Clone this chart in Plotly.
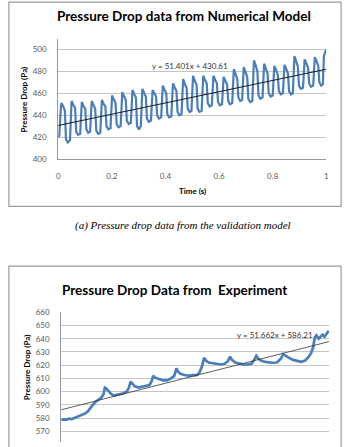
import plotly.graph_objects as go

# ---------------- data ----------------
top_time = [0.000, 0.004, 0.010, 0.012, 0.019, 0.025, 0.029, 0.036,
            0.044, 0.048, 0.050, 0.057, 0.063, 0.067, 0.074,
            0.082, 0.086, 0.088, 0.095, 0.101, 0.105, 0.112,
            0.119, 0.123, 0.125, 0.132, 0.138, 0.142, 0.149,
            0.157, 0.161, 0.163, 0.170, 0.176, 0.180, 0.187,
            0.195, 0.199, 0.201, 0.208, 0.214, 0.218, 0.225,
            0.233, 0.237, 0.239, 0.246, 0.252, 0.256, 0.263,
            0.271, 0.275, 0.277, 0.284, 0.290, 0.294, 0.301,
            0.308, 0.312, 0.314, 0.321, 0.327, 0.331, 0.338,
            0.346, 0.350, 0.352, 0.359, 0.365, 0.369, 0.376,
            0.384, 0.388, 0.390, 0.397, 0.403, 0.407, 0.414,
            0.422, 0.426, 0.428, 0.435, 0.441, 0.445, 0.452,
            0.460, 0.464, 0.466, 0.473, 0.479, 0.483, 0.490,
            0.497, 0.501, 0.503, 0.510, 0.516, 0.520, 0.527,
            0.535, 0.539, 0.541, 0.548, 0.554, 0.558, 0.565,
            0.573, 0.577, 0.579, 0.586, 0.592, 0.596, 0.603,
            0.611, 0.615, 0.617, 0.624, 0.630, 0.634, 0.641,
            0.649, 0.653, 0.655, 0.662, 0.668, 0.672, 0.679,
            0.686, 0.690, 0.692, 0.699, 0.705, 0.709, 0.716,
            0.724, 0.728, 0.730, 0.737, 0.743, 0.747, 0.754,
            0.762, 0.766, 0.768, 0.775, 0.781, 0.785, 0.792,
            0.800, 0.804, 0.806, 0.813, 0.819, 0.823, 0.830,
            0.838, 0.842, 0.844, 0.851, 0.857, 0.861, 0.868,
            0.875, 0.879, 0.881, 0.888, 0.894, 0.898, 0.905,
            0.913, 0.917, 0.919, 0.926, 0.932, 0.936, 0.943,
            0.951, 0.955, 0.957, 0.964, 0.970, 0.974, 0.981,
            0.987, 0.991, 0.995, 1.000]
top_dp = [420, 421, 447, 451, 448, 444, 418, 415,
          417, 450, 453, 449, 447, 425, 422,
          423, 449, 452, 448, 446, 427, 424,
          425, 450, 453, 449, 446, 426, 423,
          424, 451, 454, 450, 448, 430, 427,
          428, 455, 458, 454, 451, 432, 429,
          430, 458, 461, 457, 454, 435, 432,
          433, 460, 463, 459, 456, 430, 427,
          430, 461, 464, 460, 457, 437, 434,
          435, 460, 463, 460, 457, 440, 437,
          438, 464, 467, 463, 460, 441, 438,
          439, 466, 469, 465, 462, 443, 440,
          441, 470, 473, 468, 465, 446, 443,
          444, 473, 476, 471, 468, 446, 443,
          444, 473, 476, 472, 469, 451, 448,
          449, 473, 476, 472, 469, 452, 449,
          450, 472, 475, 471, 468, 453, 450,
          451, 479, 482, 477, 473, 456, 453,
          454, 481, 484, 479, 475, 455, 452,
          453, 487, 490, 485, 480, 458, 455,
          456, 484, 487, 482, 478, 460, 457,
          458, 482, 485, 481, 477, 462, 459,
          460, 483, 486, 482, 478, 462, 459,
          460, 491, 494, 489, 484, 467, 464,
          465, 488, 491, 487, 483, 469, 466,
          467, 490, 493, 489, 485, 470, 467,
          468, 494, 497, 500]
top_trend = (51.401, 430.61)

bot_time = [0.000, 0.010, 0.020, 0.030, 0.040, 0.050, 0.060, 0.070, 0.080, 0.090,
            0.100, 0.110, 0.120, 0.130, 0.140, 0.150, 0.158, 0.163, 0.168, 0.175,
            0.185, 0.195, 0.205, 0.215, 0.230, 0.245, 0.253, 0.259, 0.265, 0.275,
            0.288, 0.300, 0.315, 0.330, 0.338, 0.343, 0.350, 0.365, 0.380, 0.395,
            0.410, 0.422, 0.430, 0.436, 0.445, 0.460, 0.475, 0.490, 0.505, 0.515,
            0.525, 0.533, 0.540, 0.550, 0.565, 0.580, 0.595, 0.610, 0.622, 0.630,
            0.637, 0.650, 0.665, 0.680, 0.695, 0.710, 0.720, 0.728, 0.735, 0.745,
            0.760, 0.775, 0.790, 0.805, 0.820, 0.828, 0.837, 0.850, 0.865, 0.880,
            0.895, 0.910, 0.922, 0.932, 0.940, 0.946, 0.952, 0.960, 0.968, 0.975,
            0.982, 0.990, 0.998]
bot_dp = [578.5, 579.0, 578.8, 579.5, 579.2, 580.0, 580.5, 581.5, 582.5, 583.5,
          585.0, 588.0, 590.5, 592.5, 594.0, 595.5, 598.0, 603.0, 602.5, 600.5,
          598.5, 597.0, 597.5, 598.0, 598.5, 600.0, 603.0, 607.5, 606.0, 604.0,
          603.0, 603.5, 604.0, 605.0, 608.0, 612.0, 610.5, 609.5, 608.5, 608.5,
          610.0, 612.0, 617.5, 615.0, 613.5, 612.5, 612.0, 612.5, 612.5, 614.0,
          619.0, 625.5, 623.5, 622.0, 621.5, 621.0, 620.5, 621.0, 623.0, 626.5,
          624.0, 622.0, 621.0, 620.5, 620.5, 621.0, 624.0, 627.0, 625.0, 623.5,
          622.5, 622.0, 621.8, 622.0, 625.0, 628.3, 627.0, 625.5, 624.0, 623.0,
          622.5, 623.5, 626.0, 629.0, 633.5, 641.0, 642.5, 640.0, 641.5, 643.0,
          641.5, 643.5, 646.0]
bot_trend = (51.662, 586.21)

y_ticks_top = [400, 420, 440, 460, 480, 500]
y_ticks_bot = [570, 580, 590, 600, 610, 620, 630, 640, 650, 660]
x_ticks = [0, 0.2, 0.4, 0.6, 0.8, 1]

# ---------------- layout helpers ----------------
W, H = 352, 447
def px(x):
    return x / W
def py(y):
    return (H - y) / H

BLUE = "#4A7EBB"
GRID = "#C4C4C4"
AXIS = "#9A9A9A"
TICKC = "#595959"
FONT = "Lato"

fig = go.Figure()

fig.add_trace(go.Scatter(x=top_time, y=top_dp, mode="lines",
                         line=dict(color=BLUE, width=2.2), xaxis="x", yaxis="y",
                         showlegend=False))
fig.add_trace(go.Scatter(x=[0, 1], y=[top_trend[1], top_trend[0] + top_trend[1]],
                         mode="lines", line=dict(color="#1a1a1a", width=1),
                         xaxis="x", yaxis="y", showlegend=False))
fig.add_trace(go.Scatter(x=bot_time, y=bot_dp, mode="lines",
                         line=dict(color=BLUE, width=2.7), xaxis="x2", yaxis="y2",
                         showlegend=False))
fig.add_trace(go.Scatter(x=[0, 1], y=[bot_trend[1], bot_trend[0] + bot_trend[1]],
                         mode="lines", line=dict(color="#333333", width=0.8),
                         xaxis="x2", yaxis="y2", showlegend=False))

tickfont = dict(family=FONT, size=8, color=TICKC)

fig.update_layout(
    width=W, height=H, margin=dict(l=0, r=0, t=0, b=0),
    paper_bgcolor="white", plot_bgcolor="white",
    xaxis=dict(domain=[px(57), px(329)], range=[0, 1], tickvals=x_ticks,
               ticktext=[f"{v:g}" for v in x_ticks], showgrid=False, zeroline=False,
               showline=True, linecolor=AXIS, linewidth=1, tickfont=tickfont,
               ticks="", ticklabelstandoff=9, anchor="y"),
    yaxis=dict(domain=[py(157.5), py(34.3)], range=[400, 510], tickvals=y_ticks_top,
               showgrid=True, gridcolor=GRID, gridwidth=1, zeroline=False,
               showline=True, linecolor=AXIS, linewidth=1, tickfont=tickfont,
               ticks="", ticklabelstandoff=9, anchor="x"),
    xaxis2=dict(domain=[px(60), px(332)], range=[0, 1], showticklabels=False,
                showgrid=False, zeroline=False, showline=False, anchor="y2"),
    yaxis2=dict(domain=[0, py(314.3)], range=[561.86, 660], tickvals=y_ticks_bot,
                showgrid=True, gridcolor=GRID, gridwidth=1, zeroline=False,
                showline=True, linecolor=AXIS, linewidth=1, tickfont=tickfont,
                ticks="", ticklabelstandoff=9, anchor="x2"),
)

shapes = [
    dict(type="rect", xref="paper", yref="paper", x0=px(7), x1=px(344),
         y0=py(206), y1=py(-3), line=dict(color="#9C9C9C", width=1.2)),
    dict(type="rect", xref="paper", yref="paper", x0=px(7), x1=px(344),
         y0=py(460), y1=py(267), line=dict(color="#9C9C9C", width=1.2)),
]
fig.update_layout(shapes=shapes)

def ann(text, x, y, size, bold=False, italic=False, family=FONT, color="black",
        angle=0):
    t = text
    if bold:
        t = "<b>" + t + "</b>"
    if italic:
        t = "<i>" + t + "</i>"
    fig.add_annotation(text=t, x=px(x), y=py(y), xref="paper", yref="paper",
                       showarrow=False, xanchor="center", yanchor="middle",
                       textangle=angle,
                       font=dict(family=family, size=size, color=color))

ann("Pressure Drop data from Numerical Model", 185, 11, 13.5, bold=True)
ann("Time (s)", 193, 190.5, 8, bold=True)
ann("Pressure Drop (Pa)", 22, 97, 8, bold=True, angle=-90)
ann("y = 51.401x + 430.61", 191, 62, 8, color="#333333")
ann("(a) Pressure drop data from the validation model", 184, 226, 11,
    italic=True, family="Liberation Serif")
ann("Pressure Drop Data from \u00a0Experiment", 175, 291.5, 13.5, bold=True)
ann("Pressure Drop (Pa)", 25, 371, 8, bold=True, angle=-90)
ann("y = 51.662x + 586.21", 277, 337.5, 8, color="#333333")

fig.write_html("out.html")
